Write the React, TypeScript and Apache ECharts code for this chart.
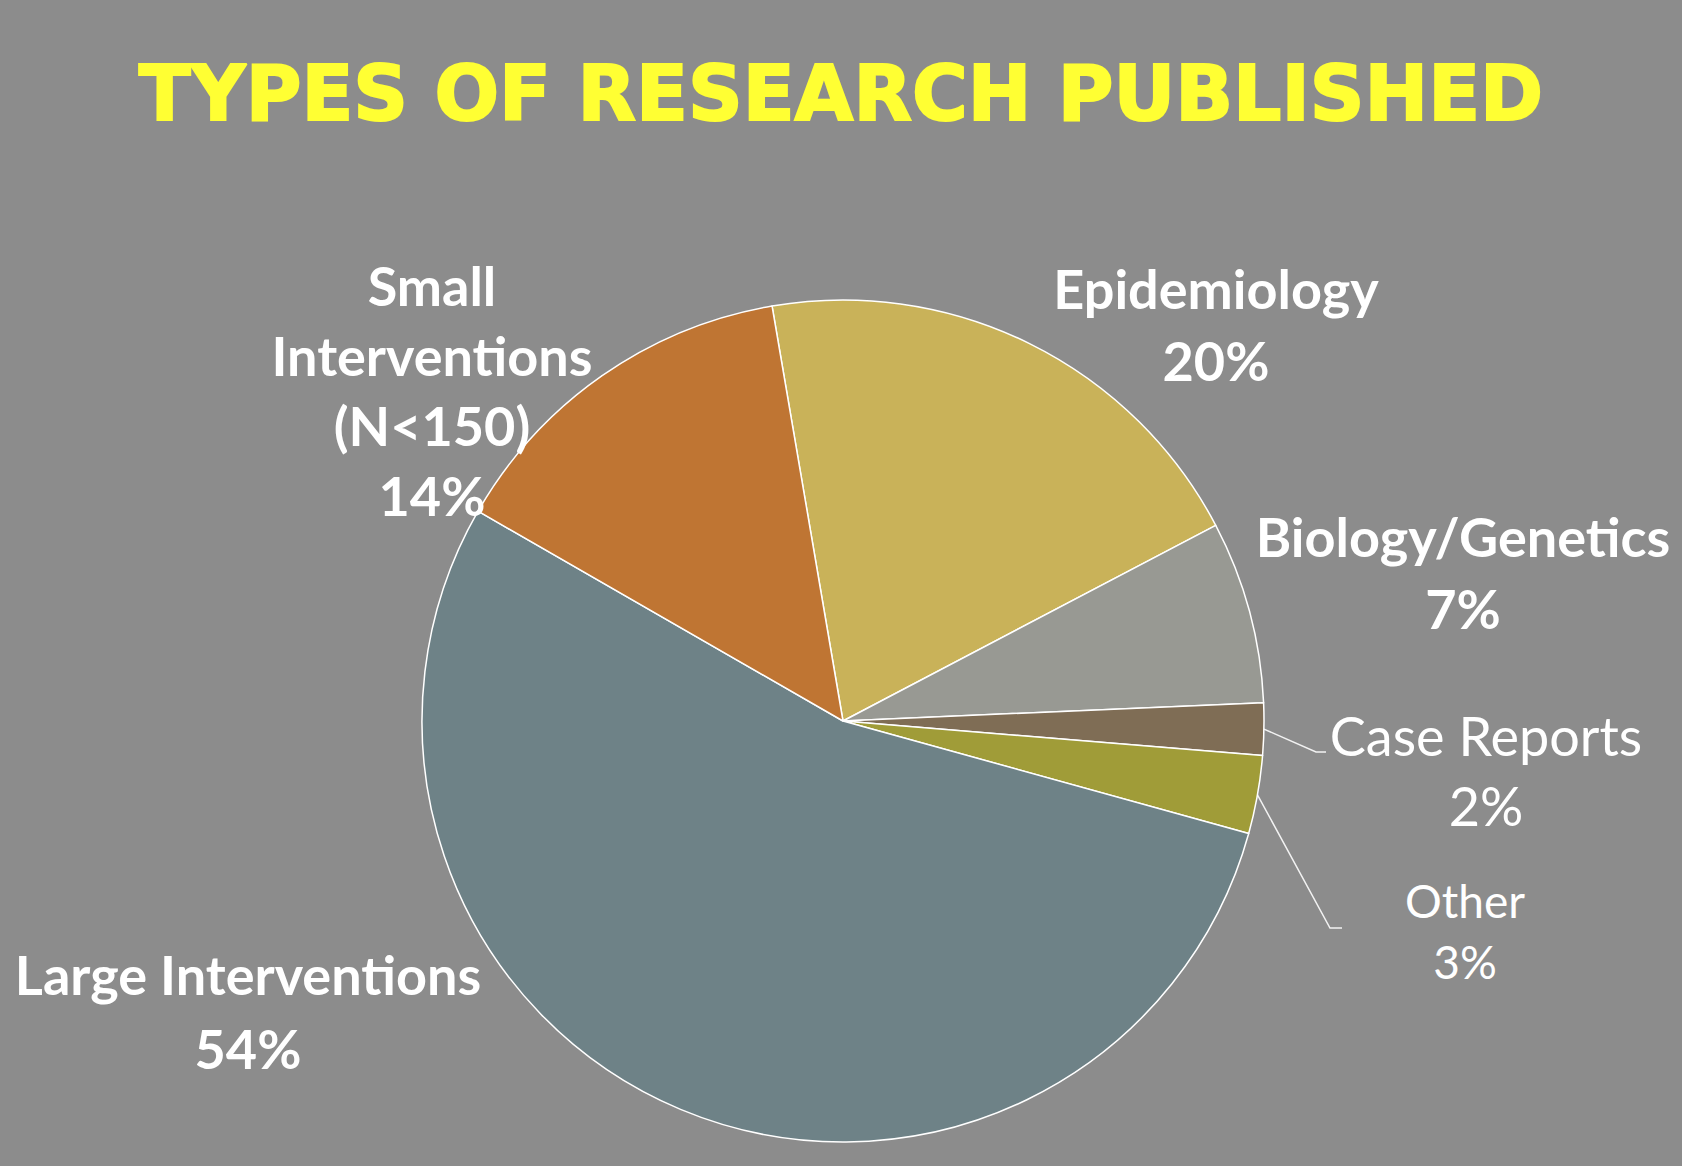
import React, { useEffect, useRef } from "react";
import * as echarts from "echarts";

const titleText = "TYPES OF RESEARCH PUBLISHED";
const categories = [
  "Epidemiology",
  "Biology/Genetics",
  "Case Reports",
  "Other",
  "Large Interventions",
  "Small\nInterventions\n(N<150)",
];
const shares = [20, 7, 2, 3, 54, 14];

const sliceColors = ["#C9B259", "#989993", "#7F6D55", "#A09C38", "#6E8287", "#BF7533"];
const labelWeights = ["bold", "bold", "normal", "normal", "bold", "bold"];
const labelSizes = [54, 54, 54, 46, 54, 54];
const labelLineHeights = [72, 72, 70, 61, 74, 70];
const showLeader = [false, false, true, true, false, true];

// label block centers and leader elbows (layout only)
const labelPlacement: { x: number; y: number; line?: number[][] }[] = [
  { x: 1216, y: 324 },
  { x: 1463, y: 572 },
  { x: 1486, y: 770, line: [[1316, 752], [1326, 752]] },
  { x: 1465, y: 931, line: [[1330, 928], [1342, 928]] },
  { x: 248, y: 1011 },
  { x: 432, y: 390, line: [[555, 429], [543, 430]] },
];

export default function App() {
  const ref = useRef<HTMLDivElement>(null);
  useEffect(() => {
    document.body.style.margin = "0";
    document.body.style.overflow = "hidden";
    const chart = echarts.init(ref.current!, null, { renderer: "svg" });
    const data = categories.map((name, i) => ({
      name,
      value: shares[i],
      itemStyle: { color: sliceColors[i] },
      label: {
        fontWeight: labelWeights[i],
        fontSize: labelSizes[i],
        lineHeight: labelLineHeights[i],
      },
      labelLine: { show: showLeader[i] },
    }));
    chart.setOption({
      animation: false,
      backgroundColor: "#8C8C8C",
      title: {
        text: titleText,
        left: "center",
        top: 50,
        textStyle: {
          fontFamily: "DejaVu Sans",
          fontWeight: "bold",
          fontSize: 76,
          color: "#FFFF33",
          textBorderColor: "#FFFF33",
          textBorderWidth: 2,
        },
      },
      series: [
        {
          type: "pie",
          center: [843, 721],
          radius: 421,
          startAngle: 99.7,
          clockwise: true,
          avoidLabelOverlap: false,
          itemStyle: { borderColor: "#FFFFFF", borderWidth: 1.5 },
          label: {
            show: true,
            position: "outside",
            color: "#FFFFFF",
            fontFamily: "Lato",
            formatter: (p: any) => `${p.name}\n${p.value}%`,
          },
          labelLine: {
            lineStyle: { color: "#F2F2F2", width: 1.5 },
          },
          labelLayout: (params: any) => {
            const pl = labelPlacement[params.dataIndex];
            const out: any = { x: pl.x, y: pl.y, align: "center", verticalAlign: "middle" };
            if (pl.line && params.labelLinePoints) {
              out.labelLinePoints = [params.labelLinePoints[0], pl.line[0], pl.line[1]];
            }
            return out;
          },
          data,
        },
      ],
    });
    return () => chart.dispose();
  }, []);
  return <div ref={ref} style={{ width: 1682, height: 1166 }} />;
}
